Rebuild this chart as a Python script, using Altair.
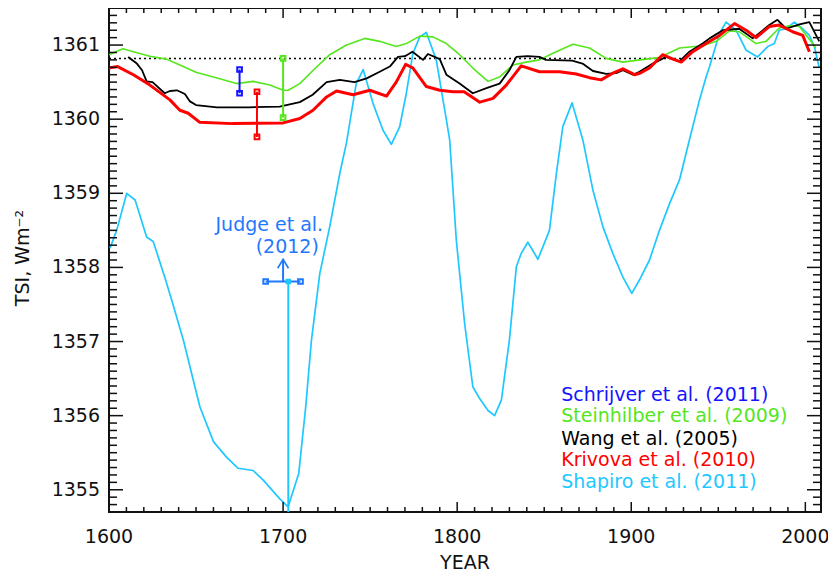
import altair as alt
import pandas as pd

FONT = "DejaVu Sans"
BLUE = "#1414ff"
GREEN = "#55e61e"
BLACK = "#000000"
RED = "#ff0000"
CYAN = "#1ec8ff"
JUDGE = "#1f78ff"

# ---- series ----
stein_year = [1600, 1608, 1614, 1623.5, 1633, 1640.7, 1650.3, 1660, 1673.3, 1682.8, 1692.4, 1700, 1703,
              1709.6, 1717.3, 1726.8, 1736.4, 1746.9, 1755.5, 1765, 1770.8, 1778.5, 1786, 1793.8, 1801.4,
              1809, 1817.7, 1824.4, 1832, 1839.7, 1847.3, 1855, 1866.5, 1876, 1885.6, 1895.2, 1905, 1916,
              1927.7, 1941, 1948.8, 1956.4, 1962, 1971.7, 1977.4, 1985, 1990.8, 1996.6, 2004.2, 2006]
stein_tsi = [1360.87, 1360.95, 1360.91, 1360.85, 1360.81, 1360.73, 1360.63, 1360.57, 1360.48, 1360.51,
             1360.46, 1360.39, 1360.39, 1360.48, 1360.66, 1360.87, 1361.0, 1361.09, 1361.05, 1360.98,
             1361.02, 1361.12, 1361.11, 1361.02, 1360.87, 1360.69, 1360.51, 1360.57, 1360.73, 1360.77,
             1360.80, 1360.89, 1361.01, 1360.96, 1360.82, 1360.77, 1360.80, 1360.83, 1360.96, 1360.99,
             1361.05, 1361.19, 1361.18, 1361.02, 1361.05, 1361.23, 1361.26, 1361.25, 1361.02, 1360.96]

wang_year = [1611, 1616, 1619, 1621.6, 1625, 1632, 1635, 1639, 1643.6, 1646.5, 1650, 1662, 1680, 1698,
             1709.6, 1717, 1725, 1732.6, 1741, 1748, 1755.5, 1761.3, 1766, 1770, 1774.3, 1780.4, 1783.2,
             1790, 1793.8, 1801.4, 1809, 1816.8, 1824.4, 1830, 1834, 1840.5, 1847.3, 1851, 1866, 1872,
             1878, 1885.6, 1891.3, 1895.2, 1900.9, 1904.7, 1912.4, 1920, 1927.7, 1933.4, 1941, 1945,
             1952.6, 1962, 1969.8, 1979.3, 1984, 1989, 1996.6, 2002.3, 2008]
wang_tsi = [1360.84, 1360.75, 1360.66, 1360.51, 1360.50, 1360.35, 1360.38, 1360.39, 1360.34, 1360.24,
            1360.19, 1360.16, 1360.16, 1360.17, 1360.23, 1360.33, 1360.50, 1360.53, 1360.50, 1360.55,
            1360.64, 1360.71, 1360.84, 1360.85, 1360.91, 1360.80, 1360.88, 1360.81, 1360.60, 1360.48,
            1360.35, 1360.42, 1360.48, 1360.66, 1360.84, 1360.85, 1360.84, 1360.80, 1360.79, 1360.75,
            1360.65, 1360.61, 1360.62, 1360.66, 1360.60, 1360.64, 1360.75, 1360.84, 1360.78, 1360.91,
            1361.02, 1361.09, 1361.20, 1361.22, 1361.09, 1361.27, 1361.34, 1361.22, 1361.28, 1361.31,
            1361.05]

kriv_year = [1600, 1605, 1614, 1623.5, 1635, 1640.7, 1645.5, 1652, 1671, 1700, 1709.6, 1717.2, 1725,
             1730.7, 1740.2, 1749.8, 1759.4, 1765, 1770.4, 1774.6, 1782.3, 1790, 1797.6, 1804, 1813,
             1820.6, 1828.2, 1836.8, 1847.3, 1858.8, 1868.4, 1876, 1882.7, 1889.4, 1895.2, 1901.9, 1905,
             1910.5, 1918, 1924, 1928.7, 1935.3, 1943, 1950.7, 1959.3, 1966, 1971.7, 1979.3, 1985,
             1992.7, 1998.5, 2002.3]
kriv_tsi = [1360.69, 1360.71, 1360.60, 1360.46, 1360.26, 1360.12, 1360.08, 1359.96, 1359.94, 1359.95,
            1360.01, 1360.12, 1360.30, 1360.38, 1360.33, 1360.39, 1360.31, 1360.50, 1360.74, 1360.69,
            1360.44, 1360.39, 1360.37, 1360.37, 1360.23, 1360.28, 1360.46, 1360.72, 1360.64, 1360.64,
            1360.61, 1360.56, 1360.53, 1360.62, 1360.68, 1360.60, 1360.62, 1360.69, 1360.87, 1360.81,
            1360.77, 1360.91, 1361.02, 1361.13, 1361.29, 1361.20, 1361.10, 1361.25, 1361.27, 1361.18,
            1361.13, 1360.91]

shap_year = [1600.6, 1604.4, 1610.2, 1615, 1621.6, 1625.4, 1632, 1636, 1642.7, 1646.5, 1652.2, 1660,
             1667.5, 1674.2, 1682.8, 1688.6, 1698, 1702.9, 1709, 1713, 1716.3, 1721.1, 1726.8, 1732.6,
             1736.4, 1742, 1746, 1751.7, 1757.4, 1762.2, 1767, 1770.8, 1774.6, 1778.5, 1782.3, 1788,
             1793.8, 1795.7, 1799.5, 1804.3, 1809, 1812.9, 1817.7, 1821.5, 1825.4, 1830, 1834, 1836.8,
             1840.6, 1846.4, 1853, 1857, 1860.7, 1866, 1872.2, 1878, 1883.7, 1889.4, 1895.2, 1900.3,
             1904.7, 1910.5, 1916.2, 1922, 1927.7, 1933.4, 1939.2, 1943, 1945, 1950.7, 1954.5, 1960.2,
             1966, 1972.6, 1978.4, 1982.2, 1985, 1989, 1993.7, 1998.5, 2002.3, 2005.2, 2008]
shap_tsi = [1358.26, 1358.50, 1359.00, 1358.91, 1358.41, 1358.35, 1357.87, 1357.56, 1357.02, 1356.66,
            1356.12, 1355.65, 1355.44, 1355.29, 1355.26, 1355.13, 1354.88, 1354.77, 1355.22, 1356.12,
            1357.02, 1357.92, 1358.55, 1359.27, 1359.68, 1360.48, 1360.67, 1360.21, 1359.85, 1359.66,
            1359.90, 1360.35, 1360.89, 1361.11, 1361.17, 1360.80, 1359.99, 1359.72, 1358.37, 1357.24,
            1356.39, 1356.23, 1356.07, 1356.00, 1356.21, 1357.02, 1358.01, 1358.19, 1358.34, 1358.11,
            1358.50, 1359.27, 1359.90, 1360.22, 1359.72, 1359.04, 1358.55, 1358.19, 1357.87, 1357.65,
            1357.83, 1358.10, 1358.50, 1358.86, 1359.18, 1359.72, 1360.26, 1360.57, 1360.71, 1361.16,
            1361.31, 1361.20, 1360.93, 1360.84, 1360.98, 1361.02, 1361.20, 1361.22, 1361.31, 1361.22,
            1361.13, 1360.98, 1360.69]

# Maunder-minimum estimates (error bars)
eb_year = [1675, 1685, 1700]
eb_lo = [1360.35, 1359.76, 1360.02]
eb_hi = [1360.67, 1360.37, 1360.82]
eb_color = [BLUE, RED, GREEN]

# Judge et al. (2012) lower limit
judge_lo_year, judge_hi_year, judge_tsi = 1690, 1710, 1357.81
judge_mid_year = 1703
arrow_year, arrow_top = 1700, 1358.11
ref_level = 1360.82

legend_labels = ["Schrijver et al. (2011)", "Steinhilber et al. (2009)", "Wang et al. (2005)",
                 "Krivova et al. (2010)", "Shapiro et al. (2011)"]
legend_colors = [BLUE, GREEN, BLACK, RED, CYAN]
legend_tsi = [1356.28, 1355.99, 1355.69, 1355.40, 1355.11]
legend_year = 1859.8

x_major = [1600, 1700, 1800, 1900, 2000]
x_labels = ["1600", "1700", "1800", "1900", "2000"]
x_minor = [y for y in range(1610, 2009, 10) if y % 100 != 0]
y_major = [1355, 1356, 1357, 1358, 1359, 1360, 1361]
y_labels = ["1355", "1356", "1357", "1358", "1359", "1360", "1361"]
y_minor = [round(1354.8 + 0.1 * i, 1) for i in range(67)]
y_minor = [v for v in y_minor if abs(v - round(v)) > 0.01]
x_title = "YEAR"
y_title = "TSI, Wm⁻²"

X_DOM = [1600, 2009]
Y_DOM = [1354.7, 1361.5]
W, H = 712, 504
xs = alt.Scale(domain=X_DOM, nice=False, zero=False)
ys = alt.Scale(domain=Y_DOM, nice=False, zero=False)
TICK = "#111111"


def X(field):
    return alt.X(field, type="quantitative", scale=xs, axis=None)


def Y(field):
    return alt.Y(field, type="quantitative", scale=ys, axis=None)


def series(years, vals, color, width):
    df = pd.DataFrame({"year": years, "tsi": vals})
    return alt.Chart(df).mark_line(color=color, strokeWidth=width, clip=True,
                                   strokeJoin="round").encode(x=X("year"), y=Y("tsi"))


l_wang = series(wang_year, wang_tsi, BLACK, 1.8)
l_shap = series(shap_year, shap_tsi, CYAN, 1.7)
l_stein = series(stein_year, stein_tsi, GREEN, 1.6)
l_kriv = series(kriv_year, kriv_tsi, RED, 3.0)


# inward ticks on all four sides (tick marks placed through the shared scales)
def xticks(values, centre, length):
    return alt.Chart(pd.DataFrame({"year": values})).mark_tick(
        color=TICK, thickness=1.5, size=length, orient="vertical", opacity=1).encode(
        x=X("year"), y=alt.value(centre))


def yticks(values, centre, length):
    return alt.Chart(pd.DataFrame({"tsi": values})).mark_tick(
        color=TICK, thickness=1.5, size=length, orient="horizontal", opacity=1).encode(
        y=Y("tsi"), x=alt.value(centre))


ticks = [
    xticks(x_major, H - 5, 10), xticks(x_minor, H - 2.5, 5),
    xticks(x_major, 5, 10), xticks(x_minor, 2.5, 5),
    yticks(y_major, 7, 14), yticks(y_minor, 4, 8),
    yticks(y_major, W - 7, 14), yticks(y_minor, W - 4, 8),
]

# tick labels and axis titles
xlab = alt.Chart(pd.DataFrame({"year": x_major, "t": x_labels})).mark_text(
    font=FONT, fontSize=19, color=TICK, align="center", baseline="middle").encode(
    x=X("year"), y=alt.value(H + 25), text="t:N")
ylab = alt.Chart(pd.DataFrame({"tsi": y_major, "t": y_labels})).mark_text(
    font=FONT, fontSize=19, color=TICK, align="right", baseline="middle").encode(
    y=Y("tsi"), x=alt.value(-9), text="t:N")
xtit = alt.Chart(pd.DataFrame({"t": [x_title]})).mark_text(
    font=FONT, fontSize=19, color=TICK, align="center", baseline="middle").encode(
    x=alt.value(W / 2), y=alt.value(H + 51), text="t:N")
ytit = alt.Chart(pd.DataFrame({"t": [y_title]})).mark_text(
    font=FONT, fontSize=19, color=TICK, align="center", baseline="middle", angle=270).encode(
    x=alt.value(-86), y=alt.value(H / 2 - 2), text="t:N")

# dotted reference level
ref = alt.Chart(pd.DataFrame({"tsi": [ref_level]})).mark_rule(
    color=BLACK, strokeWidth=1.5, strokeDash=[2, 3]).encode(y=Y("tsi"))

# error bars
eb_df = pd.DataFrame({"year": eb_year, "tsi": eb_lo, "hi": eb_hi, "c": eb_color})
eb_rules = alt.Chart(eb_df).mark_rule(strokeWidth=2).encode(
    x=X("year"), y=Y("tsi"), y2="hi:Q", color=alt.Color("c:N", scale=None))
caps_df = pd.DataFrame({"year": eb_year * 2, "tsi": eb_lo + eb_hi, "c": eb_color * 2})
eb_caps = alt.Chart(caps_df).mark_point(shape="square", filled=False, size=22, strokeWidth=2,
                                        opacity=1).encode(
    x=X("year"), y=Y("tsi"), color=alt.Color("c:N", scale=None))

# Judge et al.
jd = pd.DataFrame({"year": [judge_lo_year], "x2": [judge_hi_year], "tsi": [judge_tsi]})
j_bar = alt.Chart(jd).mark_rule(color=JUDGE, strokeWidth=2).encode(
    x=X("year"), x2="x2:Q", y=Y("tsi"))
j_caps = alt.Chart(pd.DataFrame({"year": [judge_lo_year, judge_hi_year],
                                 "tsi": [judge_tsi, judge_tsi]})).mark_point(
    shape="square", filled=False, size=22, strokeWidth=2, color=JUDGE, opacity=1).encode(
    x=X("year"), y=Y("tsi"))
j_vline = alt.Chart(pd.DataFrame({"year": [judge_mid_year], "tsi": [Y_DOM[0]],
                                  "hi": [judge_tsi]})).mark_rule(color=CYAN, strokeWidth=2).encode(
    x=X("year"), y=Y("tsi"), y2="hi:Q")
j_mid = alt.Chart(pd.DataFrame({"year": [judge_mid_year], "tsi": [judge_tsi]})).mark_point(
    shape="square", filled=True, size=30, color=CYAN, opacity=1).encode(x=X("year"), y=Y("tsi"))
j_stem = alt.Chart(pd.DataFrame({"year": [arrow_year], "tsi": [judge_tsi],
                                 "hi": [arrow_top]})).mark_rule(color=JUDGE, strokeWidth=2).encode(
    x=X("year"), y=Y("tsi"), y2="hi:Q")
j_head = alt.Chart(pd.DataFrame({"year": [arrow_year], "tsi": [arrow_top]})).mark_point(
    shape="M-0.6,1L0,0L0.6,1", filled=False, size=324, strokeWidth=1.6, color=JUDGE,
    opacity=1).encode(x=X("year"), y=Y("tsi"))
j_text = alt.Chart(pd.DataFrame({"year": [1692.1, 1702.4], "tsi": [1358.57, 1358.28],
                                 "t": ["Judge et al.", "(2012)"]})).mark_text(
    font=FONT, fontSize=19, color=JUDGE, align="center", baseline="middle").encode(
    x=X("year"), y=Y("tsi"), text="t:N")

# legend text
leg = alt.Chart(pd.DataFrame({"year": [legend_year] * 5, "tsi": legend_tsi, "t": legend_labels,
                              "c": legend_colors})).mark_text(
    font=FONT, fontSize=19, align="left", baseline="middle").encode(
    x=X("year"), y=Y("tsi"), text="t:N", color=alt.Color("c:N", scale=None))

chart = alt.layer(
    ref, l_shap, l_stein, l_wang, l_kriv, eb_rules, eb_caps,
    j_vline, j_bar, j_stem, j_head, j_caps, j_mid, j_text, leg, xlab, ylab, xtit, ytit, *ticks
).properties(
    width=W, height=H,
    autosize=alt.AutoSizeParams(type="none"),
    padding={"left": 101, "top": 0, "right": 7, "bottom": 60},
    background="white",
).configure_view(stroke="#111111", strokeWidth=2)

chart.save("out.html", embed_options={"renderer": "svg", "actions": False})
